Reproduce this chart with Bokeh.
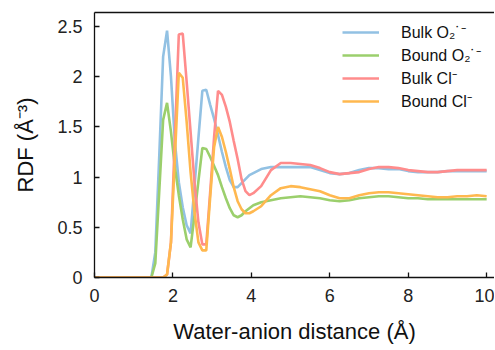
from bokeh.plotting import figure
from bokeh.models import Range1d, LinearAxis, FixedTicker, Legend, LegendItem
from bokeh.embed import file_html
from bokeh.resources import INLINE

# Water-anion distance (Å)
distance = [0.0, 1.35, 1.45, 1.55, 1.65, 1.75, 1.85, 1.95, 2.05, 2.15, 2.25, 2.35, 2.45,
            2.55, 2.65, 2.75, 2.85, 2.95, 3.05, 3.15, 3.25, 3.35, 3.45, 3.55, 3.65, 3.75,
            3.85, 3.95, 4.05, 4.25, 4.5, 4.75, 5.0, 5.25, 5.5, 5.75, 6.0, 6.25, 6.5, 6.75,
            7.0, 7.25, 7.5, 7.75, 8.0, 8.25, 8.5, 8.75, 9.0, 9.25, 9.5, 9.75, 10.0]

bulk_o2 = [0, 0, 0, 0.25, 1.2, 2.2, 2.46, 2.0, 1.35, 0.95, 0.7, 0.52, 0.44, 0.91, 1.39,
           1.86, 1.87, 1.72, 1.58, 1.42, 1.25, 1.1, 0.97, 0.9, 0.9, 0.94, 0.98, 1.02, 1.04,
           1.08, 1.10, 1.10, 1.10, 1.10, 1.10, 1.07, 1.04, 1.03, 1.04, 1.07, 1.09, 1.09,
           1.08, 1.08, 1.06, 1.05, 1.05, 1.05, 1.06, 1.06, 1.06, 1.06, 1.06]

bound_o2 = [0, 0, 0, 0.14, 0.85, 1.57, 1.74, 1.45, 1.1, 0.82, 0.58, 0.38, 0.3, 0.62, 0.96,
            1.29, 1.28, 1.2, 1.11, 1.02, 0.9, 0.79, 0.69, 0.62, 0.6, 0.62, 0.66, 0.69, 0.72,
            0.75, 0.77, 0.79, 0.80, 0.81, 0.80, 0.79, 0.77, 0.76, 0.77, 0.79, 0.80, 0.81,
            0.81, 0.80, 0.79, 0.79, 0.78, 0.78, 0.78, 0.78, 0.78, 0.78, 0.78]

bulk_cl = [0, 0, 0, 0, 0, 0, 0.03, 0.35, 1.4, 2.42, 2.43, 1.95, 1.45, 0.95, 0.55, 0.33,
           0.33, 0.85, 1.4, 1.86, 1.82, 1.70, 1.55, 1.36, 1.18, 0.98, 0.86, 0.82, 0.84,
           0.91, 1.07, 1.14, 1.14, 1.13, 1.12, 1.09, 1.05, 1.03, 1.04, 1.05, 1.08, 1.10,
           1.10, 1.09, 1.07, 1.06, 1.05, 1.05, 1.06, 1.07, 1.07, 1.07, 1.07]

bound_cl = [0, 0, 0, 0, 0, 0, 0.03, 0.35, 1.2, 2.04, 1.99, 1.55, 1.05, 0.65, 0.35, 0.27,
            0.27, 0.8, 1.3, 1.50, 1.40, 1.25, 1.08, 0.9, 0.76, 0.68, 0.64, 0.64, 0.66,
            0.71, 0.82, 0.89, 0.91, 0.90, 0.88, 0.86, 0.82, 0.79, 0.79, 0.82, 0.84, 0.85,
            0.85, 0.84, 0.83, 0.82, 0.81, 0.80, 0.80, 0.81, 0.81, 0.82, 0.81]

series_labels = ["Bulk O\u2082\u02D9\u207B", "Bound O\u2082\u02D9\u207B",
                 "Bulk Cl\u207B", "Bound Cl\u207B"]
series_colors = ["#92c1e3", "#9bcf6c", "#ff8c8c", "#ffb84f"]

x_ticks = [0, 2, 4, 6, 8, 10]
y_ticks = [0, 0.5, 1, 1.5, 2, 2.5]
y_tick_labels = ["0", "0.5", "1", "1.5", "2", "2.5"]

FONT = "Liberation Sans"

p = figure(width=494, height=347, output_backend="svg", toolbar_location=None,
           x_range=Range1d(0, 10.2), y_range=Range1d(0, 2.64),
           min_border_left=94, min_border_right=0, min_border_top=12,
           min_border_bottom=70)
p.outline_line_color = None
p.grid.visible = False
p.background_fill_color = "white"

renderers = []
for ys, c in zip([bulk_o2, bound_o2, bulk_cl, bound_cl], series_colors):
    r = p.line(distance, ys, line_color=c, line_width=2.6)
    renderers.append(r)

for ax in (p.xaxis[0], p.yaxis[0]):
    ax.major_tick_in = 5
    ax.major_tick_out = 0
    ax.minor_tick_line_color = None
    ax.axis_line_color = "#111111"
    ax.axis_line_width = 1.3
    ax.major_tick_line_color = "#111111"
    ax.major_tick_line_width = 1.3
    ax.major_label_text_font = FONT
    ax.major_label_text_font_size = "18px"
    ax.major_label_text_color = "#222222"
    ax.axis_label_text_font = FONT
    ax.axis_label_text_font_size = "22px"
    ax.axis_label_text_font_style = "normal"
    ax.axis_label_text_color = "#111111"

p.xaxis.ticker = FixedTicker(ticks=x_ticks)
p.yaxis.ticker = FixedTicker(ticks=y_ticks)
p.yaxis.major_label_overrides = {t: l for t, l in zip(y_ticks, y_tick_labels)}
p.xaxis.axis_label = "Water-anion distance (\u00C5)"
p.yaxis.axis_label = "RDF (\u00C5\u207B\u00B3)"
p.xaxis.major_label_standoff = 11
p.xaxis.axis_label_standoff = 14
p.yaxis.major_label_standoff = 12
p.yaxis.axis_label_standoff = 16

top = LinearAxis(ticker=FixedTicker(ticks=[]), axis_line_color="#111111",
                 axis_line_width=1.3, major_tick_line_color=None,
                 minor_tick_line_color=None, major_label_text_font_size="0px")
p.add_layout(top, "above")

legend = Legend(items=[LegendItem(label=l, renderers=[r]) for l, r in zip(series_labels, renderers)],
                location=(248, 165), border_line_color=None, background_fill_alpha=0,
                glyph_width=37, glyph_height=20, label_height=20, spacing=1,
                padding=0, margin=0, label_standoff=22,
                label_text_font=FONT, label_text_font_size="16px",
                label_text_color="#111111")
p.add_layout(legend)

open("out.html", "w").write(file_html(p, INLINE))
